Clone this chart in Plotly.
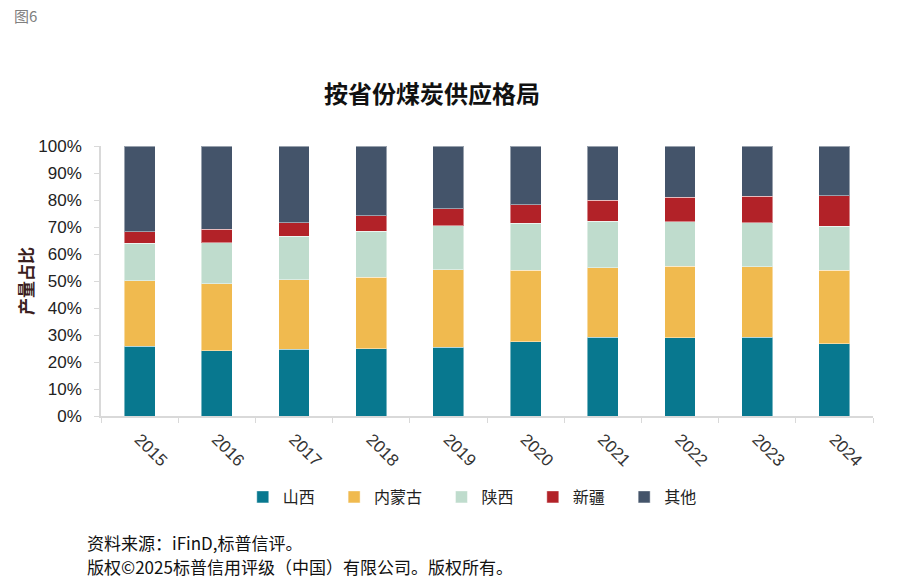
import plotly.graph_objects as go

years = ["2015", "2016", "2017", "2018", "2019", "2020", "2021", "2022", "2023", "2024"]
shanxi = [25.8, 24.2, 24.7, 24.9, 25.5, 27.5, 29.1, 28.9, 29.1, 26.7]
neimenggu = [24.3, 24.7, 25.7, 26.5, 28.6, 26.4, 25.9, 26.6, 26.1, 27.2]
shaanxi = [13.9, 15.2, 16.2, 17.0, 16.4, 17.4, 17.1, 16.4, 16.3, 16.4]
xinjiang = [4.3, 5.0, 5.0, 5.8, 6.3, 7.0, 7.8, 9.2, 9.9, 11.3]
others = [31.7, 30.9, 28.4, 25.8, 23.2, 21.7, 20.1, 18.9, 18.6, 18.4]

series = [
    ("山西", shanxi, "#08788F"),
    ("内蒙古", neimenggu, "#F0BA4F"),
    ("陕西", shaanxi, "#BFDCCD"),
    ("新疆", xinjiang, "#B22228"),
    ("其他", others, "#44546A"),
]

FONT = "Liberation Sans, Noto Sans CJK SC, sans-serif"
CJK = "Noto Sans CJK SC, sans-serif"
PAD = "\u00a0\u00a0\u00a0\u00a0"

fig = go.Figure()
for name, vals, color in series:
    fig.add_trace(go.Bar(
        x=years, y=[v / 100 for v in vals], name=name + PAD,
        marker=dict(color=color, line=dict(color="rgba(255,255,255,0.45)", width=1)),
    ))

fig.update_layout(
    barmode="stack",
    bargap=0.6,
    width=906, height=581,
    margin=dict(l=101, r=33, t=146, b=165, autoexpand=False),
    paper_bgcolor="white", plot_bgcolor="white",
    font=dict(family=FONT, color="#222222", size=14),
    showlegend=True,
    legend=dict(orientation="h", x=0.49, xanchor="center", y=-0.3, yanchor="middle",
                font=dict(family=CJK, size=16, color="#222222"),
                itemwidth=30, traceorder="normal", tracegroupgap=0),
    xaxis=dict(
        automargin=False,
        showline=True, linecolor="#d9d9d9", linewidth=1.5,
        ticks="outside", tickson="boundaries", ticklen=5, tickcolor="#d9d9d9",
        tickangle=45, tickfont=dict(size=17, color="#333333"), ticklabelstandoff=5,
        showgrid=False,
    ),
    yaxis=dict(
        automargin=False,
        range=[0, 1], tickformat=".0%", dtick=0.1,
        showline=True, linecolor="#d9d9d9", linewidth=1.5,
        ticks="outside", ticklen=5, tickcolor="#d9d9d9",
        tickfont=dict(size=17, color="#222222"), ticklabelstandoff=9,
        showgrid=False, zeroline=False,
        title=dict(text="<b>产量占比</b>", font=dict(family=CJK, size=17, color="#3a2020"), standoff=0),
    ),
    annotations=[
        dict(text="<b>按省份煤炭供应格局</b>", xref="paper", yref="paper", x=0.429, y=1.2,
             xanchor="center", yanchor="middle", showarrow=False,
             font=dict(family=CJK, size=24, color="#111111")),
        dict(text="图6", xref="paper", yref="paper", x=-0.115, y=1.485,
             xanchor="left", yanchor="middle", showarrow=False,
             font=dict(family=CJK, size=15, color="#808080")),
        dict(text="资料来源：iFinD,标普信评。", xref="paper", yref="paper", x=-0.021, y=-0.467,
             xanchor="left", yanchor="middle", showarrow=False,
             font=dict(family=CJK, size=17, color="#111111")),
        dict(text="版权©2025标普信用评级（中国）有限公司。版权所有。", xref="paper", yref="paper",
             x=-0.021, y=-0.556, xanchor="left", yanchor="middle", showarrow=False,
             font=dict(family=CJK, size=17, color="#111111")),
    ],
)

fig.write_html("out.html", config={"displayModeBar": False},
               post_script="document.body.style.margin='0';")
